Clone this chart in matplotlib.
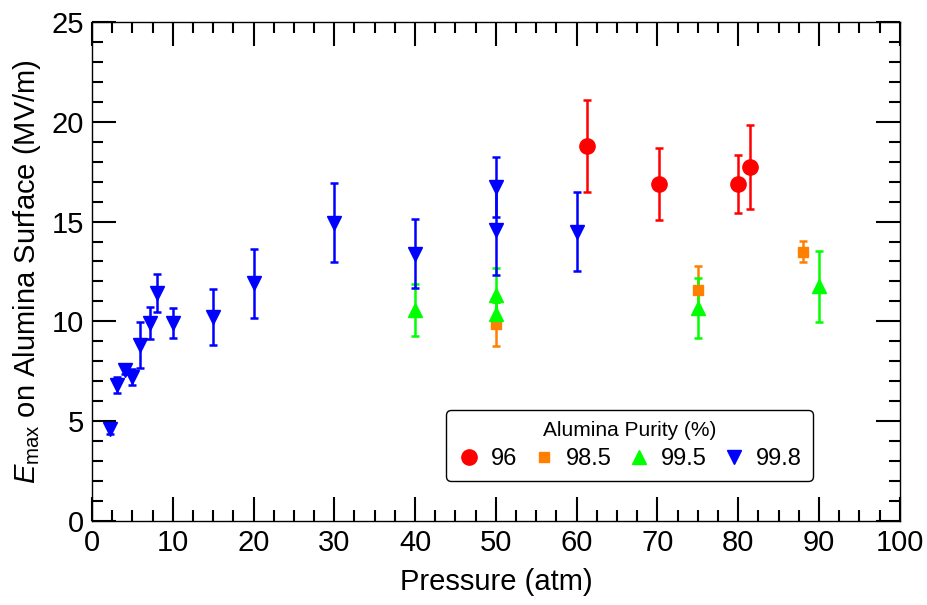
#Emax vs pressure for different alumina purities
import matplotlib
matplotlib.use("Agg")
import matplotlib.pyplot as plt
from matplotlib.ticker import MultipleLocator

plt.rcParams['font.family'] = ['Liberation Sans', 'DejaVu Sans']
plt.rcParams['mathtext.fontset'] = 'custom'
plt.rcParams['mathtext.rm'] = 'Liberation Sans'
plt.rcParams['mathtext.it'] = 'Liberation Sans:italic'

# 96 %
p96 = [61.3, 70.2, 80.0, 81.45]
e96 = [18.8, 16.9, 16.9, 17.75]
err96 = [2.3, 1.8, 1.45, 2.1]
# 98.5 %
p985 = [50, 75, 88]
e985 = [9.85, 11.55, 13.5]
err985 = [1.1, 1.2, 0.55]
# 99.5 %
p995 = [40, 50, 50, 75, 90]
e995 = [10.55, 11.3, 10.35, 10.65, 11.75]
err995 = [1.3, 1.35, 0.6, 1.5, 1.8]
# 99.8 %
p998 = [2.2, 3.1, 4.1, 5, 6, 7.2, 8, 10, 15, 20, 30, 40, 50, 50, 60]
e998 = [4.6, 6.8, 7.55, 7.2, 8.8, 9.9, 11.4, 9.9, 10.2, 11.9, 14.95, 13.4, 16.75, 14.6, 14.5]
err998 = [0.25, 0.4, 0.2, 0.4, 1.15, 0.8, 0.95, 0.75, 1.4, 1.75, 2.0, 1.75, 1.5, 2.3, 2.0]

labels = ['96', '98.5', '99.5', '99.8']

fig = plt.figure(figsize=(9.27, 6.05), dpi=100)
ax = fig.add_axes([0.0992, 0.139, 0.8714, 0.8246])

kw = dict(linestyle='none', capsize=3, elinewidth=1.8, capthick=1.8)
h1 = ax.errorbar(p96, e96, yerr=err96, marker='o', ms=11, color='#ff0000', **kw)
h2 = ax.errorbar(p985, e985, yerr=err985, marker='s', ms=7.5, color='#ff8000', **kw)
h3 = ax.errorbar(p995, e995, yerr=err995, marker='^', ms=10, color='#00ff00', **kw)
h4 = ax.errorbar(p998, e998, yerr=err998, marker='v', ms=10, color='#0000ff', **kw)

ax.set_xlim(0, 100)
ax.set_ylim(0, 25)
ax.xaxis.set_major_locator(MultipleLocator(10))
ax.xaxis.set_minor_locator(MultipleLocator(2.5))
ax.yaxis.set_major_locator(MultipleLocator(5))
ax.yaxis.set_minor_locator(MultipleLocator(1))
ax.tick_params(which='both', direction='in', top=True, right=True, width=1.5, labelsize=21)
ax.tick_params(which='major', length=17, pad=6)
ax.tick_params(which='minor', length=8)
for s in ax.spines.values():
    s.set_linewidth(1)

ax.set_xlabel('Pressure (atm)', fontsize=21, labelpad=8)
ax.set_ylabel(r'$E_{\mathrm{max}}$ on Alumina Surface (MV/m)', fontsize=21, labelpad=6)

leg = ax.legend([h1[0], h2[0], h3[0], h4[0]], labels, title='Alumina Purity (%)',
                ncol=4, loc='lower right', bbox_to_anchor=(0.892, 0.08), borderaxespad=0,
                fontsize=17, title_fontsize=15, handlelength=1, handletextpad=0.43,
                columnspacing=0.65, frameon=True, fancybox=True, framealpha=1,
                edgecolor='black', borderpad=0.45, labelspacing=0.35)
leg.get_frame().set_linewidth(1)

fig.savefig('out.png', dpi=100)
